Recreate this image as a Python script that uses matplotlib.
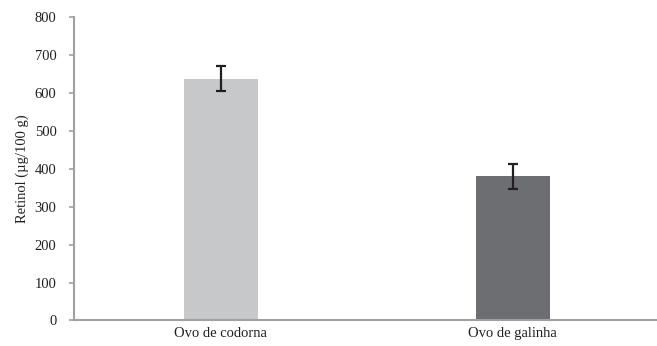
import matplotlib
matplotlib.use("Agg")
import matplotlib.pyplot as plt

categories = ["Ovo de codorna", "Ovo de galinha"]
retinol = [638, 380]
retinol_err = [33, 32]
bar_colors = ["#c7c8ca", "#6d6e71"]
yticks = [0, 100, 200, 300, 400, 500, 600, 700, 800]

plt.rcParams['font.family'] = ['Liberation Serif', 'DejaVu Serif']

fig = plt.figure(figsize=(6.57, 3.46), dpi=100)
ax = fig.add_axes([0.1126, 0.074, 0.887, 0.876])

x = range(len(categories))
ax.bar(x, retinol, width=0.253, color=bar_colors, zorder=2)
ax.errorbar(x, retinol, yerr=retinol_err, fmt='none', ecolor='#231f20',
            elinewidth=1.6, capsize=3.8, capthick=1.6, zorder=3)

ax.set_xlim(-0.502, 1.493)
ax.set_ylim(0, 800)
ax.set_yticks(yticks)
ax.set_xticks(list(x))
ax.set_xticklabels(categories, fontsize=10.5, color='#231f20')
ax.tick_params(axis='y', labelsize=10.5, labelcolor='#231f20', color='#a0a0a0',
               length=3.5, width=1.2, pad=9)
ax.tick_params(axis='x', length=0, pad=5)
ax.set_ylabel("Retinol (µg/100 g)", fontsize=10.5, color='#231f20', labelpad=4)

for side in ['top', 'right']:
    ax.spines[side].set_visible(False)
for side in ['left', 'bottom']:
    ax.spines[side].set_color('#a0a0a0')
    ax.spines[side].set_linewidth(1.5)

fig.savefig("out.png", dpi=100)
